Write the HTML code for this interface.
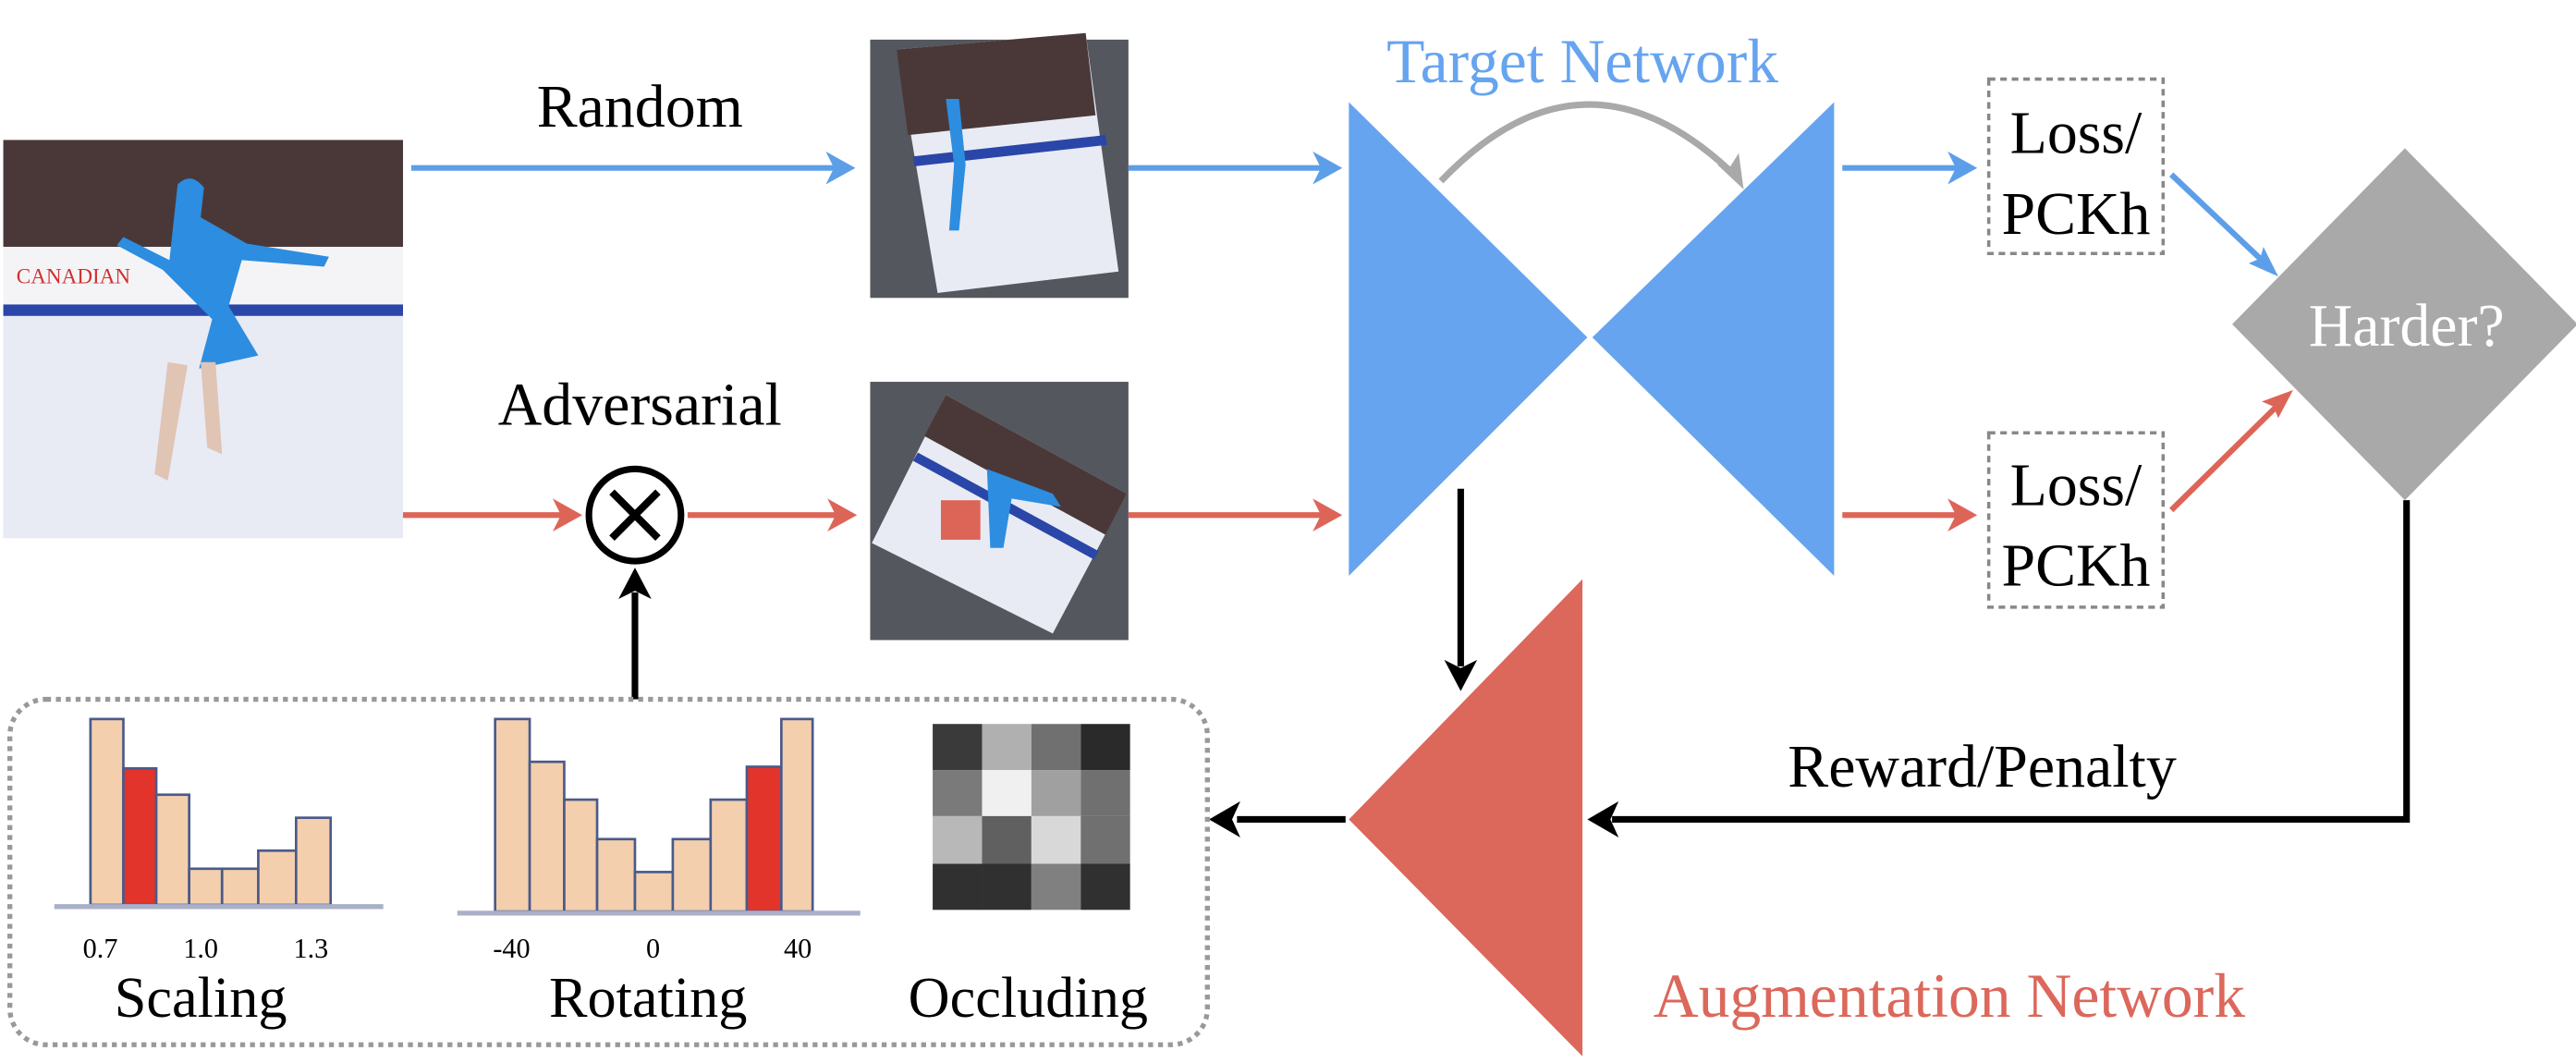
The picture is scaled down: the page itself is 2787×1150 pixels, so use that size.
<!DOCTYPE html>
<html><head><meta charset="utf-8"><style>
html,body{margin:0;padding:0;background:#fff;}
svg{display:block;font-family:"Liberation Serif","Times New Roman",serif;}
svg text{font-family:"Liberation Serif","Times New Roman",serif !important;}
</style></head><body>
<svg width="2787" height="1150" viewBox="0 0 1566 646" xmlns="http://www.w3.org/2000/svg" font-family="Liberation Serif, serif">
<!-- photo -->
<rect x="2" y="85" width="243" height="242" fill="#e9ebf5"/>
<rect x="2" y="85" width="243" height="65" fill="#4a3838"/>
<rect x="2" y="150" width="243" height="40" fill="#f4f4f6"/>
<text x="10" y="172" font-size="13" fill="#d03030" font-family="Liberation Serif, serif">CANADIAN</text>
<rect x="2" y="185" width="243" height="7" fill="#2a46a8"/>
<rect x="2" y="192" width="243" height="135" fill="#e8eaf4"/>
<path d="M108,112 q8,-8 16,2 l-2,18 l28,16 l50,8 l-3,6 l-50,-4 l-8,28 l18,30 l-36,8 l8,-30 l-30,-30 l-28,-15 l4,-5 l28,14 z" fill="#2d8de0"/>
<path d="M102,220 l-8,68 l8,4 l12,-70 z M122,220 l4,52 l9,4 l-4,-56z" fill="#e0c4b4"/>
<!-- image 1 -->
<rect x="529" y="24" width="157" height="157" fill="#54575d"/>
<polygon points="545,30 660,20 680,165 570,178" fill="#e8ebf4"/>
<polygon points="545,30 660,20 666,70 552,82" fill="#4a3838"/>
<polygon points="555,95 672,82 673,88 556,101" fill="#2a46a8"/>
<path d="M575,60 l8,0 l4,40 l-4,40 l-6,0 l3,-40z" fill="#2d8de0"/>
<!-- image 2 -->
<rect x="529" y="232" width="157" height="157" fill="#54575d"/>
<polygon points="575,240 685,300 640,385 530,330" fill="#e8ebf4"/>
<polygon points="575,240 685,300 672,325 562,265" fill="#4a3838"/>
<polygon points="558,275 668,335 665,340 555,280" fill="#2a46a8"/>
<path d="M600,285 l40,15 l5,8 l-30,-5 l-5,30 l-8,0z" fill="#2d8de0"/>
<rect x="572" y="304" width="24" height="24" fill="#dd6558"/>
<!-- texts -->
<text x="389" y="77" font-size="37" text-anchor="middle" font-family="Liberation Serif, serif">Random</text>
<text x="389" y="258" font-size="37" text-anchor="middle" font-family="Liberation Serif, serif">Adversarial</text>
<!-- blue arrows -->
<g stroke="#5d9ee8" stroke-width="3.5" fill="#5d9ee8">
<line x1="250" y1="102" x2="510" y2="102"/><polygon points="520,102 502,92 507,102 502,112" stroke="none"/>
<line x1="686" y1="102" x2="805" y2="102"/><polygon points="816,102 798,92 803,102 798,112" stroke="none"/>
<line x1="1120" y1="102" x2="1190" y2="102"/><polygon points="1202,102 1184,92 1189,102 1184,112" stroke="none"/>
<line x1="1320" y1="106" x2="1376" y2="159"/><polygon points="1385,168 1367,160 1374,157 1376,150" stroke="none"/>
</g>
<!-- red arrows -->
<g stroke="#dd6558" stroke-width="3.5" fill="#dd6558">
<line x1="245" y1="313" x2="342" y2="313"/><polygon points="354,313 336,303 341,313 336,323" stroke="none"/>
<line x1="418" y1="313" x2="510" y2="313"/><polygon points="521,313 503,303 508,313 503,323" stroke="none"/>
<line x1="686" y1="313" x2="805" y2="313"/><polygon points="816,313 798,303 803,313 798,323" stroke="none"/>
<line x1="1120" y1="313" x2="1190" y2="313"/><polygon points="1202,313 1184,303 1189,313 1184,323" stroke="none"/>
<line x1="1320" y1="310" x2="1385" y2="246"/><polygon points="1394,237 1375,244 1382,247 1385,254" stroke="none"/>
</g>
<!-- target network -->
<polygon points="820,62 965,205 820,350" fill="#66a4f0"/>
<polygon points="1115,62 968,205 1115,350" fill="#66a4f0"/>
<text x="962" y="50" font-size="38" fill="#66a4f0" text-anchor="middle" font-family="Liberation Serif, serif">Target Network</text>
<path d="M876,110 Q962,20 1052,104" fill="none" stroke="#a8a9a8" stroke-width="4"/>
<polygon points="1060,115 1044,100 1052,101 1057,93" fill="#a8a9a8"/>
<!-- loss boxes -->
<g fill="none" stroke="#888" stroke-width="2" stroke-dasharray="4,3">
<rect x="1209" y="48" width="106" height="106"/><rect x="1209" y="263" width="106" height="106"/>
</g>
<g font-size="37" text-anchor="middle" font-family="Liberation Serif, serif">
<text x="1262" y="93">Loss/</text><text x="1262" y="142">PCKh</text>
<text x="1262" y="307">Loss/</text><text x="1262" y="356">PCKh</text>
</g>
<!-- diamond -->
<polygon points="1462,90 1567,197 1462,304 1357,197" fill="#a8a9a8"/>
<text x="1463" y="210" font-size="37" fill="#fff" text-anchor="middle" font-family="Liberation Serif, serif">Harder?</text>
<!-- black lines -->
<g stroke="#000" stroke-width="4" fill="#000">
<polyline points="1463,304 1463,498 980,498" fill="none"/>
<polygon points="965,498 984,487 979,498 984,509" stroke="none"/>
<line x1="888" y1="297" x2="888" y2="405"/><polygon points="888,420 878,401 888,406 898,401" stroke="none"/>
<line x1="818" y1="498" x2="752" y2="498"/><polygon points="735,498 754,487 749,498 754,509" stroke="none"/>
<line x1="386" y1="425" x2="386" y2="360"/><polygon points="386,345 376,364 386,359 396,364" stroke="none"/>
</g>
<text x="1205" y="478" font-size="37" text-anchor="middle" font-family="Liberation Serif, serif">Reward/Penalty</text>
<!-- circle -->
<circle cx="386" cy="313" r="28" fill="#fff" stroke="#000" stroke-width="4"/>
<line x1="372" y1="299" x2="400" y2="327" stroke="#000" stroke-width="4.5"/>
<line x1="400" y1="299" x2="372" y2="327" stroke="#000" stroke-width="4.5"/>
<!-- aug network -->
<polygon points="962,352 820,498 962,642" fill="#dc675b"/>
<text x="1185" y="618" font-size="38" fill="#dc675b" text-anchor="middle" font-family="Liberation Serif, serif">Augmentation Network</text>
<!-- dashed box -->
<rect x="6" y="425" width="728" height="210" rx="22" fill="none" stroke="#999" stroke-width="3" stroke-dasharray="3,3"/>
<!-- scaling hist -->
<g stroke="#4a5a8a" stroke-width="1.5" fill="#f3cfae">
<rect x="55" y="437" width="20" height="113"/>
<rect x="75" y="467" width="20" height="83" fill="#e2342a"/>
<rect x="95" y="483" width="20" height="67"/>
<rect x="115" y="528" width="20" height="22"/>
<rect x="135" y="528" width="22" height="22"/>
<rect x="157" y="517" width="23" height="33"/>
<rect x="180" y="497" width="21" height="53"/>
</g>
<line x1="33" y1="551" x2="233" y2="551" stroke="#aab0c8" stroke-width="3"/>
<g font-size="17" text-anchor="middle" font-family="Liberation Serif, serif"><text x="61" y="582">0.7</text><text x="122" y="582">1.0</text><text x="189" y="582">1.3</text></g>
<text x="122" y="618" font-size="35" text-anchor="middle" font-family="Liberation Serif, serif">Scaling</text>
<!-- rotating hist -->
<g stroke="#4a5a8a" stroke-width="1.5" fill="#f3cfae">
<rect x="301" y="437" width="21" height="117"/>
<rect x="322" y="463" width="21" height="91"/>
<rect x="343" y="486" width="20" height="68"/>
<rect x="363" y="510" width="23" height="44"/>
<rect x="386" y="530" width="23" height="24"/>
<rect x="409" y="510" width="23" height="44"/>
<rect x="432" y="486" width="22" height="68"/>
<rect x="454" y="466" width="21" height="88" fill="#e2342a"/>
<rect x="475" y="437" width="19" height="117"/>
</g>
<line x1="278" y1="555" x2="523" y2="555" stroke="#aab0c8" stroke-width="3"/>
<g font-size="17" text-anchor="middle" font-family="Liberation Serif, serif"><text x="311" y="582">-40</text><text x="397" y="582">0</text><text x="485" y="582">40</text></g>
<text x="394" y="618" font-size="35" text-anchor="middle" font-family="Liberation Serif, serif">Rotating</text>
<!-- occluding -->
<g>
<rect x="567" y="440" width="30" height="28" fill="#3a3a3a"/><rect x="597" y="440" width="30" height="28" fill="#b0b0b0"/><rect x="627" y="440" width="30" height="28" fill="#707070"/><rect x="657" y="440" width="30" height="28" fill="#2a2a2a"/>
<rect x="567" y="468" width="30" height="28" fill="#7a7a7a"/><rect x="597" y="468" width="30" height="28" fill="#f0f0f0"/><rect x="627" y="468" width="30" height="28" fill="#a0a0a0"/><rect x="657" y="468" width="30" height="28" fill="#707070"/>
<rect x="567" y="496" width="30" height="29" fill="#b8b8b8"/><rect x="597" y="496" width="30" height="29" fill="#606060"/><rect x="627" y="496" width="30" height="29" fill="#d8d8d8"/><rect x="657" y="496" width="30" height="29" fill="#707070"/>
<rect x="567" y="525" width="30" height="28" fill="#303030"/><rect x="597" y="525" width="30" height="28" fill="#303030"/><rect x="627" y="525" width="30" height="28" fill="#808080"/><rect x="657" y="525" width="30" height="28" fill="#303030"/>
</g>
<text x="625" y="618" font-size="35" text-anchor="middle" font-family="Liberation Serif, serif">Occluding</text>
</svg>
</body></html>
